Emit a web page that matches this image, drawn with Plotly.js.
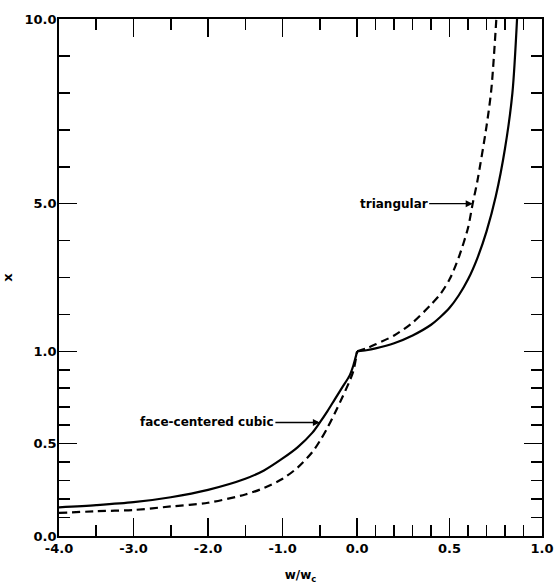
<!DOCTYPE html>
<html>
<head>
<meta charset="utf-8">
<script src="https://cdn.plot.ly/plotly-3.0.1.min.js"></script>
<style>html,body{margin:0;padding:0;background:#fff;}#chart{width:555px;height:584px;}</style>
</head>
<body>
<div id="chart"></div>
<script>
// ---- data (w/wc , x) ----
const wFcc = [-4.0,-3.5,-3.0,-2.5,-2.0,-1.5,-1.25,-1.0,-0.8,-0.6,-0.5,-0.4,-0.3,-0.2,-0.1,-0.05,0.0,0.05,0.1,0.2,0.3,0.4,0.45,0.5,0.55,0.6,0.65,0.7,0.75,0.8,0.84,0.865];
const xFcc = [0.155,0.167,0.183,0.21,0.25,0.31,0.355,0.42,0.48,0.56,0.615,0.675,0.74,0.805,0.87,0.925,1.0,1.03,1.08,1.22,1.43,1.72,1.93,2.18,2.52,2.95,3.52,4.25,5.2,6.5,8.0,10.0];
const wTri = [-4.0,-3.5,-3.0,-2.5,-2.0,-1.5,-1.25,-1.0,-0.8,-0.6,-0.5,-0.4,-0.3,-0.2,-0.1,-0.05,0.0,0.05,0.1,0.2,0.3,0.4,0.45,0.5,0.55,0.6,0.625,0.65,0.7,0.726,0.753];
const xTri = [0.125,0.134,0.141,0.16,0.18,0.225,0.26,0.31,0.37,0.455,0.515,0.585,0.665,0.75,0.84,0.895,1.0,1.08,1.19,1.43,1.78,2.27,2.55,2.95,3.55,4.35,5.0,5.6,7.1,8.1,10.0];

const seriesNames = ['face-centered cubic', 'triangular'];

// tick labels
const xMajorVals = [-4.0,-3.0,-2.0,-1.0,0.0,0.5,1.0];
const xMajorText = ['-4.0','-3.0','-2.0','-1.0','0.0','0.5','1.0'];
const xMinorVals = [-3.5,-2.5,-1.5,-0.5,0.1,0.2,0.3,0.4,0.6,0.7,0.8,0.9];
const yMajorVals = [0.0,0.5,1.0,5.0,10.0];
const yMajorText = ['0.0','0.5','1.0','5.0','10.0'];
const yMinorVals = [0.1,0.2,0.3,0.4,0.6,0.7,0.8,0.9,2,3,4,6,7,8,9];

// ---- piecewise axis scales of the original figure ----
const RIGHT_STRETCH = 2.48;   // w>0 side is stretched
function tw(w){ return w <= 0 ? w : w * RIGHT_STRETCH; }
function tx(x){ return x <= 1 ? x * 5 : 4 + x; }

const FONT = 'DejaVu Sans, Arial, sans-serif';

// each curve has a cusp at w = 0: draw the two branches separately
function branch(ws, xs, left){
  const X = [], Y = [];
  ws.forEach((w, i) => { if (left ? w <= 0 : w >= 0) { X.push(tw(w)); Y.push(tx(xs[i])); } });
  return {x: X, y: Y};
}
function curve(ws, xs, name, dash){
  return [true, false].map(left => Object.assign(branch(ws, xs, left), {
    name: name, mode: 'lines', showlegend: false,
    line: {color: '#000', width: 2.2, dash: dash, shape: 'spline', smoothing: 0.8}
  }));
}

const traces = [].concat(
  curve(wFcc, xFcc, seriesNames[0], 'solid'),
  curve(wTri, xTri, seriesNames[1], '8px,5px')
);

const iF = wFcc.indexOf(-0.5);
const iT = wTri.indexOf(0.625);

const axisCommon = {
  showgrid: false, zeroline: false, showline: true, linecolor: '#000', linewidth: 1.8,
  mirror: 'allticks', ticks: 'inside', ticklen: 18, tickwidth: 1.6, tickcolor: '#000',
  tickfont: {family: FONT, size: 13, color: '#000', weight: 'bold'},
  fixedrange: true
};

const layout = {
  width: 555, height: 584,
  margin: {l: 59, r: 13, t: 19, b: 48},
  paper_bgcolor: '#fff', plot_bgcolor: '#fff',
  showlegend: false,
  font: {family: FONT, color: '#000'},
  xaxis: Object.assign({}, axisCommon, {
    range: [tw(-4), tw(1)],
    tickmode: 'array', tickvals: xMajorVals.map(tw), ticktext: xMajorText,
    minor: {tickmode: 'array', tickvals: xMinorVals.map(tw), ticks: 'inside', ticklen: 11, tickwidth: 1.6, tickcolor: '#000'},
    title: {text: 'w/w<sub>c</sub>', font: {family: FONT, size: 12, color: '#000', weight: 'bold'}, standoff: 18}
  }),
  yaxis: Object.assign({}, axisCommon, {
    range: [tx(0), tx(10)],
    tickmode: 'array', tickvals: yMajorVals.map(tx), ticktext: yMajorText,
    ticklabelstandoff: -2,
    minor: {tickmode: 'array', tickvals: yMinorVals.map(tx), ticks: 'inside', ticklen: 11, tickwidth: 1.6, tickcolor: '#000'},
    title: {text: 'x', font: {family: FONT, size: 13, color: '#000', weight: 'bold'}, standoff: 24}
  }),
  annotations: [
    {x: tw(wFcc[iF]), y: tx(xFcc[iF]), xref: 'x', yref: 'y', text: seriesNames[0],
     showarrow: true, ax: -113, ay: 0, arrowhead: 2, arrowsize: 1, arrowwidth: 1.4, arrowcolor: '#000',
     font: {family: FONT, size: 12, color: '#000', weight: 'bold'}},
    {x: tw(wTri[iT]), y: tx(xTri[iT]), xref: 'x', yref: 'y', text: seriesNames[1],
     showarrow: true, ax: -79, ay: 0, arrowhead: 2, arrowsize: 1, arrowwidth: 1.4, arrowcolor: '#000',
     font: {family: FONT, size: 12, color: '#000', weight: 'bold'}}
  ]
};

Plotly.newPlot('chart', traces, layout, {displayModeBar: false, staticPlot: true});
</script>
</body>
</html>
